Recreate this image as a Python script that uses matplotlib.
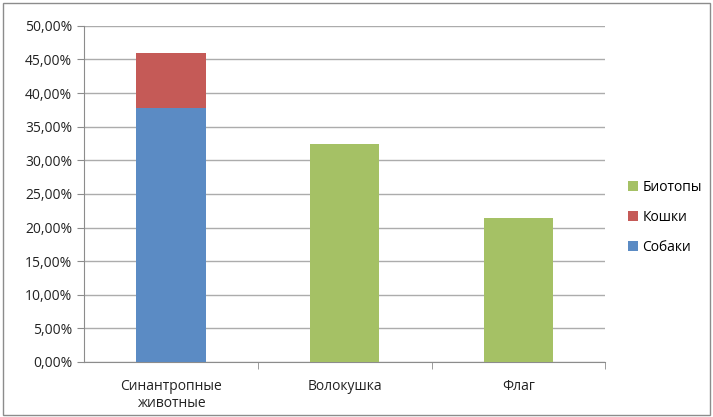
import matplotlib.pyplot as plt
from matplotlib.patches import Rectangle
from matplotlib.ticker import MultipleLocator, FuncFormatter

# данные
categories = ["Синантропные\nживотные", "Волокушка", "Флаг"]
sobaki = [37.8, 0, 0]
koshki = [8.2, 0, 0]
biotopy = [0, 32.4, 21.4]

plt.rcParams['font.family'] = ['Open Sans', 'DejaVu Sans']

fig = plt.figure(figsize=(7.13, 4.17), dpi=100)
ax = fig.add_axes([0.118, 0.132, 0.731, 0.806])

x = range(len(categories))
w = 0.4
b1 = ax.bar(x, sobaki, w, color="#5B8BC4", label="Собаки", zorder=3)
b2 = ax.bar(x, koshki, w, bottom=sobaki, color="#C55A57", label="Кошки", zorder=3)
b3 = ax.bar(x, biotopy, w, color="#A5C165", label="Биотопы", zorder=3)

ax.set_ylim(0, 50)
ax.set_xlim(-0.5, 2.5)
ax.yaxis.set_major_locator(MultipleLocator(5))
ax.yaxis.set_major_formatter(FuncFormatter(lambda v, p: f"{v:.2f}%".replace(".", ",")))
ax.grid(axis="y", color="#acacac", linewidth=1, zorder=0)

ax.set_xticks(list(x))
ax.set_xticklabels(categories, fontsize=10, color="#222222")
ax.set_xticks([0.5, 1.5, 2.5], minor=True)
ax.tick_params(axis="x", which="major", length=0, pad=12)
ax.tick_params(axis="x", which="minor", length=5, color="#8c8c8c")
ax.tick_params(axis="y", length=5, color="#8c8c8c", labelsize=10, labelcolor="#222222")

for s in ["top", "right"]:
    ax.spines[s].set_visible(False)
for s in ["left", "bottom"]:
    ax.spines[s].set_color("#8c8c8c")

leg = ax.legend(handles=[b3, b2, b1], loc="center left", bbox_to_anchor=(1.02, 0.43),
                frameon=False, fontsize=10, handlelength=0.7, handleheight=0.7,
                handletextpad=0.3, labelspacing=1.1)

# рамка вокруг всего графика
fig.patches.append(Rectangle((0.004, 0.004), 0.992, 0.99, transform=fig.transFigure,
                             fill=False, edgecolor="#8c8c8c", linewidth=1))

fig.savefig("out.png", dpi=100)
